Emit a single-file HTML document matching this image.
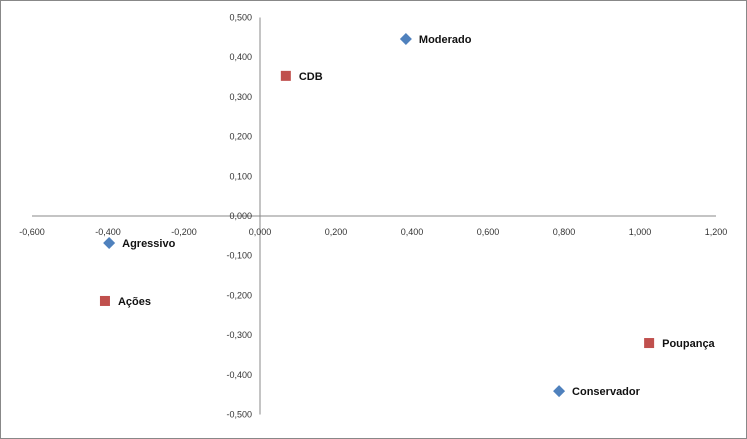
<!DOCTYPE html>
<html><head><meta charset="utf-8"><style>
body{margin:0;background:#fff;}
svg{display:block;font-family:"Liberation Sans",Arial,sans-serif;}
</style></head><body>
<svg id="chart" width="747" height="439">
<rect x="0.5" y="0.5" width="746" height="438" fill="#fff" stroke="#888"/>
<g id="g"></g>
</svg>
<script>
const xTicks=[-0.6,-0.4,-0.2,0,0.2,0.4,0.6,0.8,1.0,1.2];
const yTicks=[0.5,0.4,0.3,0.2,0.1,0,-0.1,-0.2,-0.3,-0.4,-0.5];
const names=["Moderado","CDB","Agressivo","Ações","Poupança","Conservador"];
const xs=[0.384,0.068,-0.397,-0.408,1.024,0.787];
const ys=[0.446,0.353,-0.068,-0.214,-0.320,-0.441];
const kinds=["diamond","square","diamond","square","square","diamond"];
const X=v=>260+v*380, Y=v=>216-v*397;
const g=document.getElementById('g');const NS='http://www.w3.org/2000/svg';
function mk(t,a,p){const e=document.createElementNS(NS,t);for(const k in a)e.setAttribute(k,a[k]);(p||g).appendChild(e);return e;}
const fmt=v=>v.toFixed(3).replace('.',',');
let e=mk('line',{x1:X(-0.6),x2:X(1.2),y1:Y(0),y2:Y(0),stroke:'#888','stroke-width':1});


e=mk('line',{x1:X(0),x2:X(0),y1:Y(0.5),y2:Y(-0.5),stroke:'#888','stroke-width':1});


xTicks.forEach(v=>{const t=mk('text',{x:X(v),y:Y(0)+19,'font-size':9,'text-anchor':'middle',fill:'#333'});t.textContent=fmt(v);

});
yTicks.forEach(v=>{const t=mk('text',{x:X(0)-8,y:Y(v)+3,'font-size':9,'text-anchor':'end',fill:'#333'});t.textContent=fmt(v);

});
names.forEach((n,i)=>{const cx=X(xs[i]),cy=Y(ys[i]);let m;
if(kinds[i]==='square')m=mk('rect',{x:cx-5,y:cy-5,width:10,height:10,fill:'#c0504d'});
else m=mk('polygon',{points:`${cx},${cy-6} ${cx+6},${cy} ${cx},${cy+6} ${cx-6},${cy}`,fill:'#4f81bd'});


const t=mk('text',{x:cx+13,y:cy+4,'font-size':11,'font-weight':'bold',fill:'#111'});t.textContent=n;

});
</script>
</body></html>
